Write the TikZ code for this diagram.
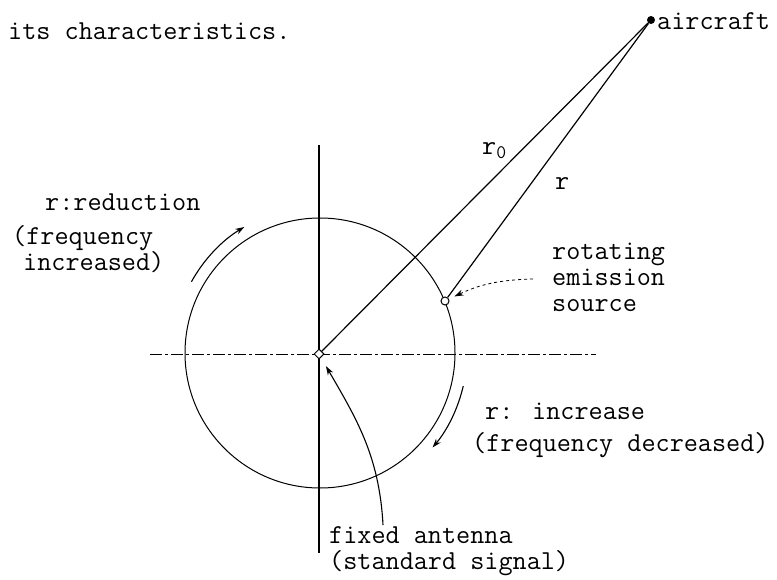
\documentclass[tikz,border=0pt]{standalone}
\usetikzlibrary{arrows.meta,shapes.geometric}

\begin{document}
\begin{tikzpicture}[>={Stealth[length=9pt,width=6pt]},x=1pt,y=1pt,
  txt/.style={font=\ttfamily\fontsize{27.4}{26}\selectfont,inner sep=0pt,anchor=base west},
  centreline/.style={line width=0.8pt,dash pattern=on 12pt off 3pt on 3pt off 3pt}]
  \useasboundingbox (0,0) rectangle (777,-580);
  % path of the rotating source, radius R around the fixed antenna
  \pgfmathsetmacro{\R}{135}
  \coordinate (ctr) at (320,-353);
  \draw[line width=1pt] (ctr) circle[radius=\R];
  \draw[centreline] (150,-354) -- (596,-354);
  \draw[line width=1.6pt] (319,-145) -- (319,-553);
  % antenna, source and aircraft
  \node[draw,diamond,fill=white,inner sep=0pt,minimum size=10pt,line width=1pt] (antenna) at (319,-354) {};
  \node[draw,circle,fill=white,inner sep=0pt,minimum size=8pt,line width=1pt] (source) at (445,-301) {};
  \node[circle,fill,inner sep=0pt,minimum size=8pt] (aircraft) at (651,-20) {};
  \draw[line width=1.2pt] (antenna) -- (aircraft);
  \draw[line width=1.2pt] (source) -- (aircraft);
  % labels
  \node[txt] (intro) at (8,-40) {its characteristics.};
  \node[txt] (aclabel) at (657,-30) {aircraft};
  \node[txt] (rzero) at (482,-155) {r\textsubscript{0}};
  \node[txt] (rlabel) at (555,-190) {r};
  \node[txt] (redA) at (45,-211) {r:reduction};
  \node[txt] (redB) at (12,-245) {(frequency};
  \node[txt] (redC) at (23,-271) {increased)};
  \node[txt,align=left,anchor=north west] (rotlabel) at (552,-243) {rotating\\emission\\source};
  \node[txt] (incA) at (485,-419) {r: increase};
  \node[txt] (incB) at (472,-451) {(frequency decreased)};
  \node[txt,align=left,anchor=north west] (fixlabel) at (329,-526) {fixed antenna\\(standard signal)};
  % sense of rotation, just outside the circle
  \draw[->,line width=1.1pt] (ctr) ++(151:147) arc[start angle=151,end angle=121,radius=147];
  \draw[->,line width=1.1pt] (ctr) ++(-13:147) arc[start angle=-13,end angle=-40,radius=147];
  % pointers to source and antenna
  \coordinate (srctail) at (533,-279);
  \draw[->,dashed,line width=0.8pt,shorten >=6pt] (srctail) to[bend right=12] (source);
  \coordinate (anttail) at (383,-525);
  \draw[->,line width=1.1pt,shorten >=10pt] (anttail) to[out=93,in=-60] (antenna);
\end{tikzpicture}
\end{document}
